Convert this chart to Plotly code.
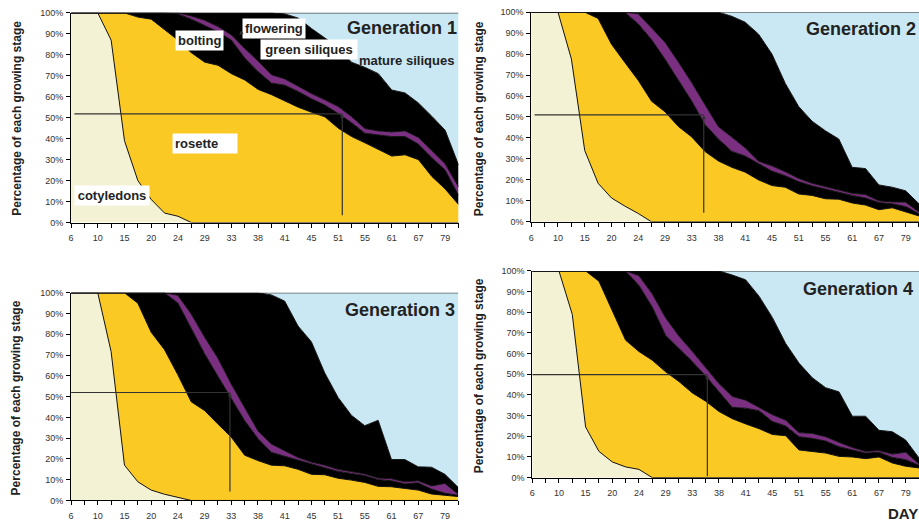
import numpy as np
import plotly.graph_objects as go

# ---------------- data ----------------
day_labels = ["6", "10", "15", "20", "24", "29", "33", "38", "41", "45", "51", "55", "61", "67", "79"]
stages = ["cotyledons", "rosette", "bolting", "flowering", "green siliques", "mature siliques"]
stage_colors = ["#F4F2D4", "#FBC924", "#000000", "#7B2F80", "#000000", "#C9E8F3"]

# Cumulative upper edge (%) of each stage (cotyledons, +rosette, +bolting, +flowering, +green siliques)
g1_cotyledons = [100, 100, 100, 87, 39, 20, 11, 4.5, 3, 0] + [0] * 20
g1_rosette = [100, 100, 100, 100, 100, 98, 97, 92, 87, 81, 76.5, 75, 71, 68, 63.5, 61, 58, 55, 52.6, 50.4,
              45, 41, 38, 35, 31.7, 32.3, 30, 22, 16, 8.6]
g1_bolting = [100, 100, 100, 100, 100, 100, 100, 100, 99.5, 97, 94, 91, 87, 78.5, 72, 66.5, 65.5, 62.5, 59, 56,
              52, 47.6, 42.6, 41.7, 41, 41, 37.4, 31, 25, 13]
g1_flowering = [100, 100, 100, 100, 100, 100, 100, 100, 100, 98.5, 96.5, 93.5, 89.5, 83, 77, 70.5, 68.5, 65, 61.5, 58.5,
                55.3, 50.5, 44.8, 43.7, 43.2, 43.7, 40.6, 34.3, 28, 17]
g1_green = [100] * 16 + [99.5, 97.5, 92.5, 88, 83.5, 76.4, 74, 71, 63.2, 61.8, 57, 50.7, 44, 27.5]

g2_cotyledons = [100, 100, 100, 77.7, 34, 18.4, 11.4, 7.5, 4, 0] + [0] * 20
g2_rosette = [100, 100, 100, 100, 100, 97, 84.7, 76, 67.5, 57.5, 52.5, 45.5, 40.5, 33.5, 29, 26, 23.7, 20, 17.3, 16.5,
              13.3, 12.6, 11, 10.8, 9, 8, 5.8, 6.7, 4.7, 2.8]
g2_bolting = [100, 100, 100, 100, 100, 100, 100, 100, 94.4, 86.9, 77.6, 67.9, 57.6, 46.3, 39.5, 33.6, 31.4, 27.8, 24.2, 22,
              19.2, 17.2, 15.6, 14.2, 12.6, 11.4, 9.2, 8.6, 7.3, 3.9]
g2_flowering = [100, 100, 100, 100, 100, 100, 100, 100, 99.2, 92.6, 85.7, 76.3, 66.4, 55.8, 45.4, 40.4, 35.3, 28.9, 26.7, 23.9,
                20.7, 18.4, 16.7, 15.3, 13.6, 13, 10, 9.5, 9.4, 4.7]
g2_green = [100] * 15 + [98, 95.2, 89.5, 80, 66, 55, 48, 43.4, 39.5, 26, 25.4, 17.6, 16.5, 14.8, 8.6]

g3_cotyledons = [100, 100, 100, 71.7, 17, 9, 5, 3, 1.5, 0] + [0] * 20
g3_rosette = [100, 100, 100, 100, 100, 95, 81, 72.6, 60.5, 47.5, 43.3, 36.8, 30.5, 21.8, 19.2, 17, 16.7, 15, 12.6, 12.4,
              10.7, 9.8, 8.7, 6.8, 6.6, 5.8, 5, 3.1, 2.4, 1.9]
g3_bolting = [100, 100, 100, 100, 100, 100, 100, 100, 95.1, 83, 70.7, 59.8, 48.9, 38.5, 29.8, 23.2, 21.3, 19.5, 17.5, 16,
              14, 13, 12, 10, 9.5, 8, 8.5, 5.5, 3.5, 2.5]
g3_flowering = [100, 100, 100, 100, 100, 100, 100, 100, 98.8, 89.8, 78.7, 68.5, 56.1, 44.9, 33.5, 27.2, 23.8, 20.7, 18.5, 17,
                15, 14, 12.8, 10.8, 10.5, 9, 9.5, 7, 8.2, 3]
g3_green = [100] * 15 + [99, 96, 84, 76.4, 61.4, 49.6, 41, 36, 38.6, 19.7, 19.7, 16.2, 16, 12.6, 6.3]

g4_cotyledons = [100, 100, 100, 79, 24.5, 12.7, 7.6, 5.2, 4, 0] + [0] * 20
g4_rosette = [100, 100, 100, 100, 100, 95, 80.7, 66.5, 61, 56.8, 51.2, 46.5, 41, 37, 32, 28.5, 26, 23.7, 20.9, 20.3,
              13.4, 12.7, 11.9, 10.3, 10, 9.2, 10, 7.1, 5.5, 4.7]
g4_bolting = [100, 100, 100, 100, 100, 100, 100, 100, 93, 82.5, 68.9, 62.6, 56.2, 49.2, 41.5, 34, 33.6, 32.4, 27.2, 25,
              19.8, 19, 17.7, 15, 13.4, 11.9, 12.3, 9.8, 8.7, 6]
g4_flowering = [100, 100, 100, 100, 100, 100, 100, 100, 97.7, 88.9, 77.3, 68.5, 61.1, 53.2, 45.5, 39.3, 37.5, 34, 30.5, 27.8,
                21.8, 21.4, 19.8, 17.1, 14.6, 12.7, 13.1, 11.4, 12.3, 6.6]
g4_green = [100] * 15 + [98, 95.7, 87.8, 77.5, 64.9, 55.4, 48.3, 43.5, 41.5, 29.7, 29.7, 22.9, 22.2, 18.2, 9.5]

generations = ["Generation 1", "Generation 2", "Generation 3", "Generation 4"]
gen_data = [
    [g1_cotyledons, g1_rosette, g1_bolting, g1_flowering, g1_green],
    [g2_cotyledons, g2_rosette, g2_bolting, g2_flowering, g2_green],
    [g3_cotyledons, g3_rosette, g3_bolting, g3_flowering, g3_green],
    [g4_cotyledons, g4_rosette, g4_bolting, g4_flowering, g4_green],
]

# 50 % reference lines (category index of the vertical line, percentage of horizontal line)
ref_x = [20.3, 12.9, 11.9, 13.13]
ref_y = [51.8, 51.0, 52.0, 49.8]
ref_x_start = [0.25, 0.25, 0.0, 0.0]
ref_y_bottom = [2.7, 3.6, 3.6, 0.0]

# ---------------- figure ----------------
FONT = "Liberation Sans, Arial, sans-serif"
domains = [
    ([0.0743, 0.4973], [0.5825, 0.9849]),
    ([0.5767, 1.0], [0.5838, 0.9863]),
    ([0.0743, 0.4970], [0.0490, 0.4476]),
    ([0.5778, 1.0], [0.0928, 0.4896]),
]

fig = go.Figure()
n = len(g1_cotyledons)
x = np.arange(n)
tickvals = list(range(n))
ticktext = []
for i in range(n):
    ticktext.append(day_labels[i // 2] if i % 2 == 0 and i // 2 < len(day_labels) else "")

annotations = []
shapes = []
for p, (cums, gen) in enumerate(zip(gen_data, generations)):
    xa = "x" if p == 0 else f"x{p + 1}"
    ya = "y" if p == 0 else f"y{p + 1}"
    cum = np.vstack([np.array(c, dtype=float) for c in cums] + [np.full(n, 100.0)])
    vals = np.diff(np.vstack([np.zeros(n), cum]), axis=0)
    for s in range(len(stages)):
        fig.add_trace(go.Scatter(
            x=x, y=vals[s], name=stages[s], stackgroup=f"g{p}", mode="lines",
            line=dict(color="#111111", width=1), fillcolor=stage_colors[s],
            xaxis=xa, yaxis=ya, showlegend=False, hoverinfo="skip"))
    axkw = dict(showline=True, linecolor="black", linewidth=1, showgrid=False, zeroline=False,
                ticks="outside", ticklen=4, tickcolor="black",
                tickfont=dict(size=9, color="#333333", family=FONT))
    xk = "xaxis" if p == 0 else f"xaxis{p + 1}"
    yk = "yaxis" if p == 0 else f"yaxis{p + 1}"
    fig.update_layout({
        xk: dict(domain=domains[p][0], anchor=ya, range=[0, n - 1], tickmode="array",
                 tickvals=tickvals, ticktext=ticktext, ticklabelstandoff=3, **axkw),
        yk: dict(domain=domains[p][1], anchor=xa, range=[0, 100], tickmode="linear", tick0=0, dtick=10,
                 ticksuffix="%", ticklabelstandoff=1, **axkw),
    })
    # reference lines
    shapes.append(dict(type="line", xref=xa, yref=ya, x0=ref_x_start[p], x1=ref_x[p],
                       y0=ref_y[p], y1=ref_y[p], line=dict(color="#333333", width=1.2)))
    annotations.append(dict(x=ref_x[p], y=ref_y[p], ax=ref_x[p], ay=ref_y_bottom[p],
                            xref=xa, yref=ya, axref=xa, ayref=ya, text="", showarrow=True,
                            arrowhead=2, arrowsize=0.7, arrowwidth=1.2, arrowcolor="#333333"))
    # generation title
    annotations.append(dict(text=f"<b>{gen}</b>", xref="paper", yref="paper",
                            x=[0.4973, 0.999, 0.4951, 0.9956][p],
                            y=[0.9557, 0.9539, 0.4153, 0.4548][p],
                            xanchor="right", yanchor="middle", showarrow=False,
                            font=dict(size=18, color="#222222", family=FONT)))
    # y axis title
    annotations.append(dict(text="<b>Percentage of each growing stage</b>", xref="paper", yref="paper",
                            x=[0.0152, 0.519, 0.0152, 0.519][p],
                            y=[0.7834, 0.7815, 0.2467, 0.2881][p],
                            textangle=-90, showarrow=False, xanchor="center", yanchor="middle",
                            font=dict(size=12, color="#222222", family=FONT)))

# stage labels in Generation 1 panel
lab_font = dict(size=13, color="#222222", family=FONT)
annotations += [
    dict(text="<b>bolting</b>", x=9.64, y=87, xref="x", yref="y", showarrow=False,
         bgcolor="white", borderpad=2, font=lab_font),
    dict(text="<b>flowering</b>", x=15.18, y=92.4, xref="x", yref="y", showarrow=False,
         bgcolor="white", borderpad=2, font=lab_font),
    dict(text="<b>green siliques</b>", x=17.8, y=82.3, xref="x", yref="y", showarrow=False,
         bgcolor="white", borderpad=2, width=92, font=lab_font),
    dict(text="<b>mature siliques</b>", x=25.1, y=77.5, xref="x", yref="y", showarrow=False,
         font=lab_font),
    dict(text="<b>rosette</b>", x=10.0, y=37.9, xref="x", yref="y", showarrow=False,
         bgcolor="white", borderpad=2, width=60, align="left", font=lab_font),
    dict(text="<b>cotyledons</b>", x=3.05, y=13, xref="x", yref="y", showarrow=False,
         bgcolor="white", borderpad=2, width=70, font=lab_font),
    dict(x=12.6, y=89.5, xref="x", yref="y", ax=3, ay=-3, text="", showarrow=True,
         arrowhead=2, arrowsize=0.8, arrowwidth=1, arrowcolor="#333333"),
    dict(text="<b>DAY</b>", x=0.982, y=0.0235, xref="paper", yref="paper", showarrow=False,
         xanchor="center", yanchor="middle", font=dict(size=15, color="#222222", family=FONT)),
]

fig.update_layout(width=919, height=531, margin=dict(l=0, r=0, t=0, b=0),
                  paper_bgcolor="white", plot_bgcolor="white",
                  font=dict(family=FONT), annotations=annotations, shapes=shapes)

fig.write_html("out.html", config={"displayModeBar": False},
               post_script="document.body.style.margin='0';document.body.style.overflow='hidden';")
